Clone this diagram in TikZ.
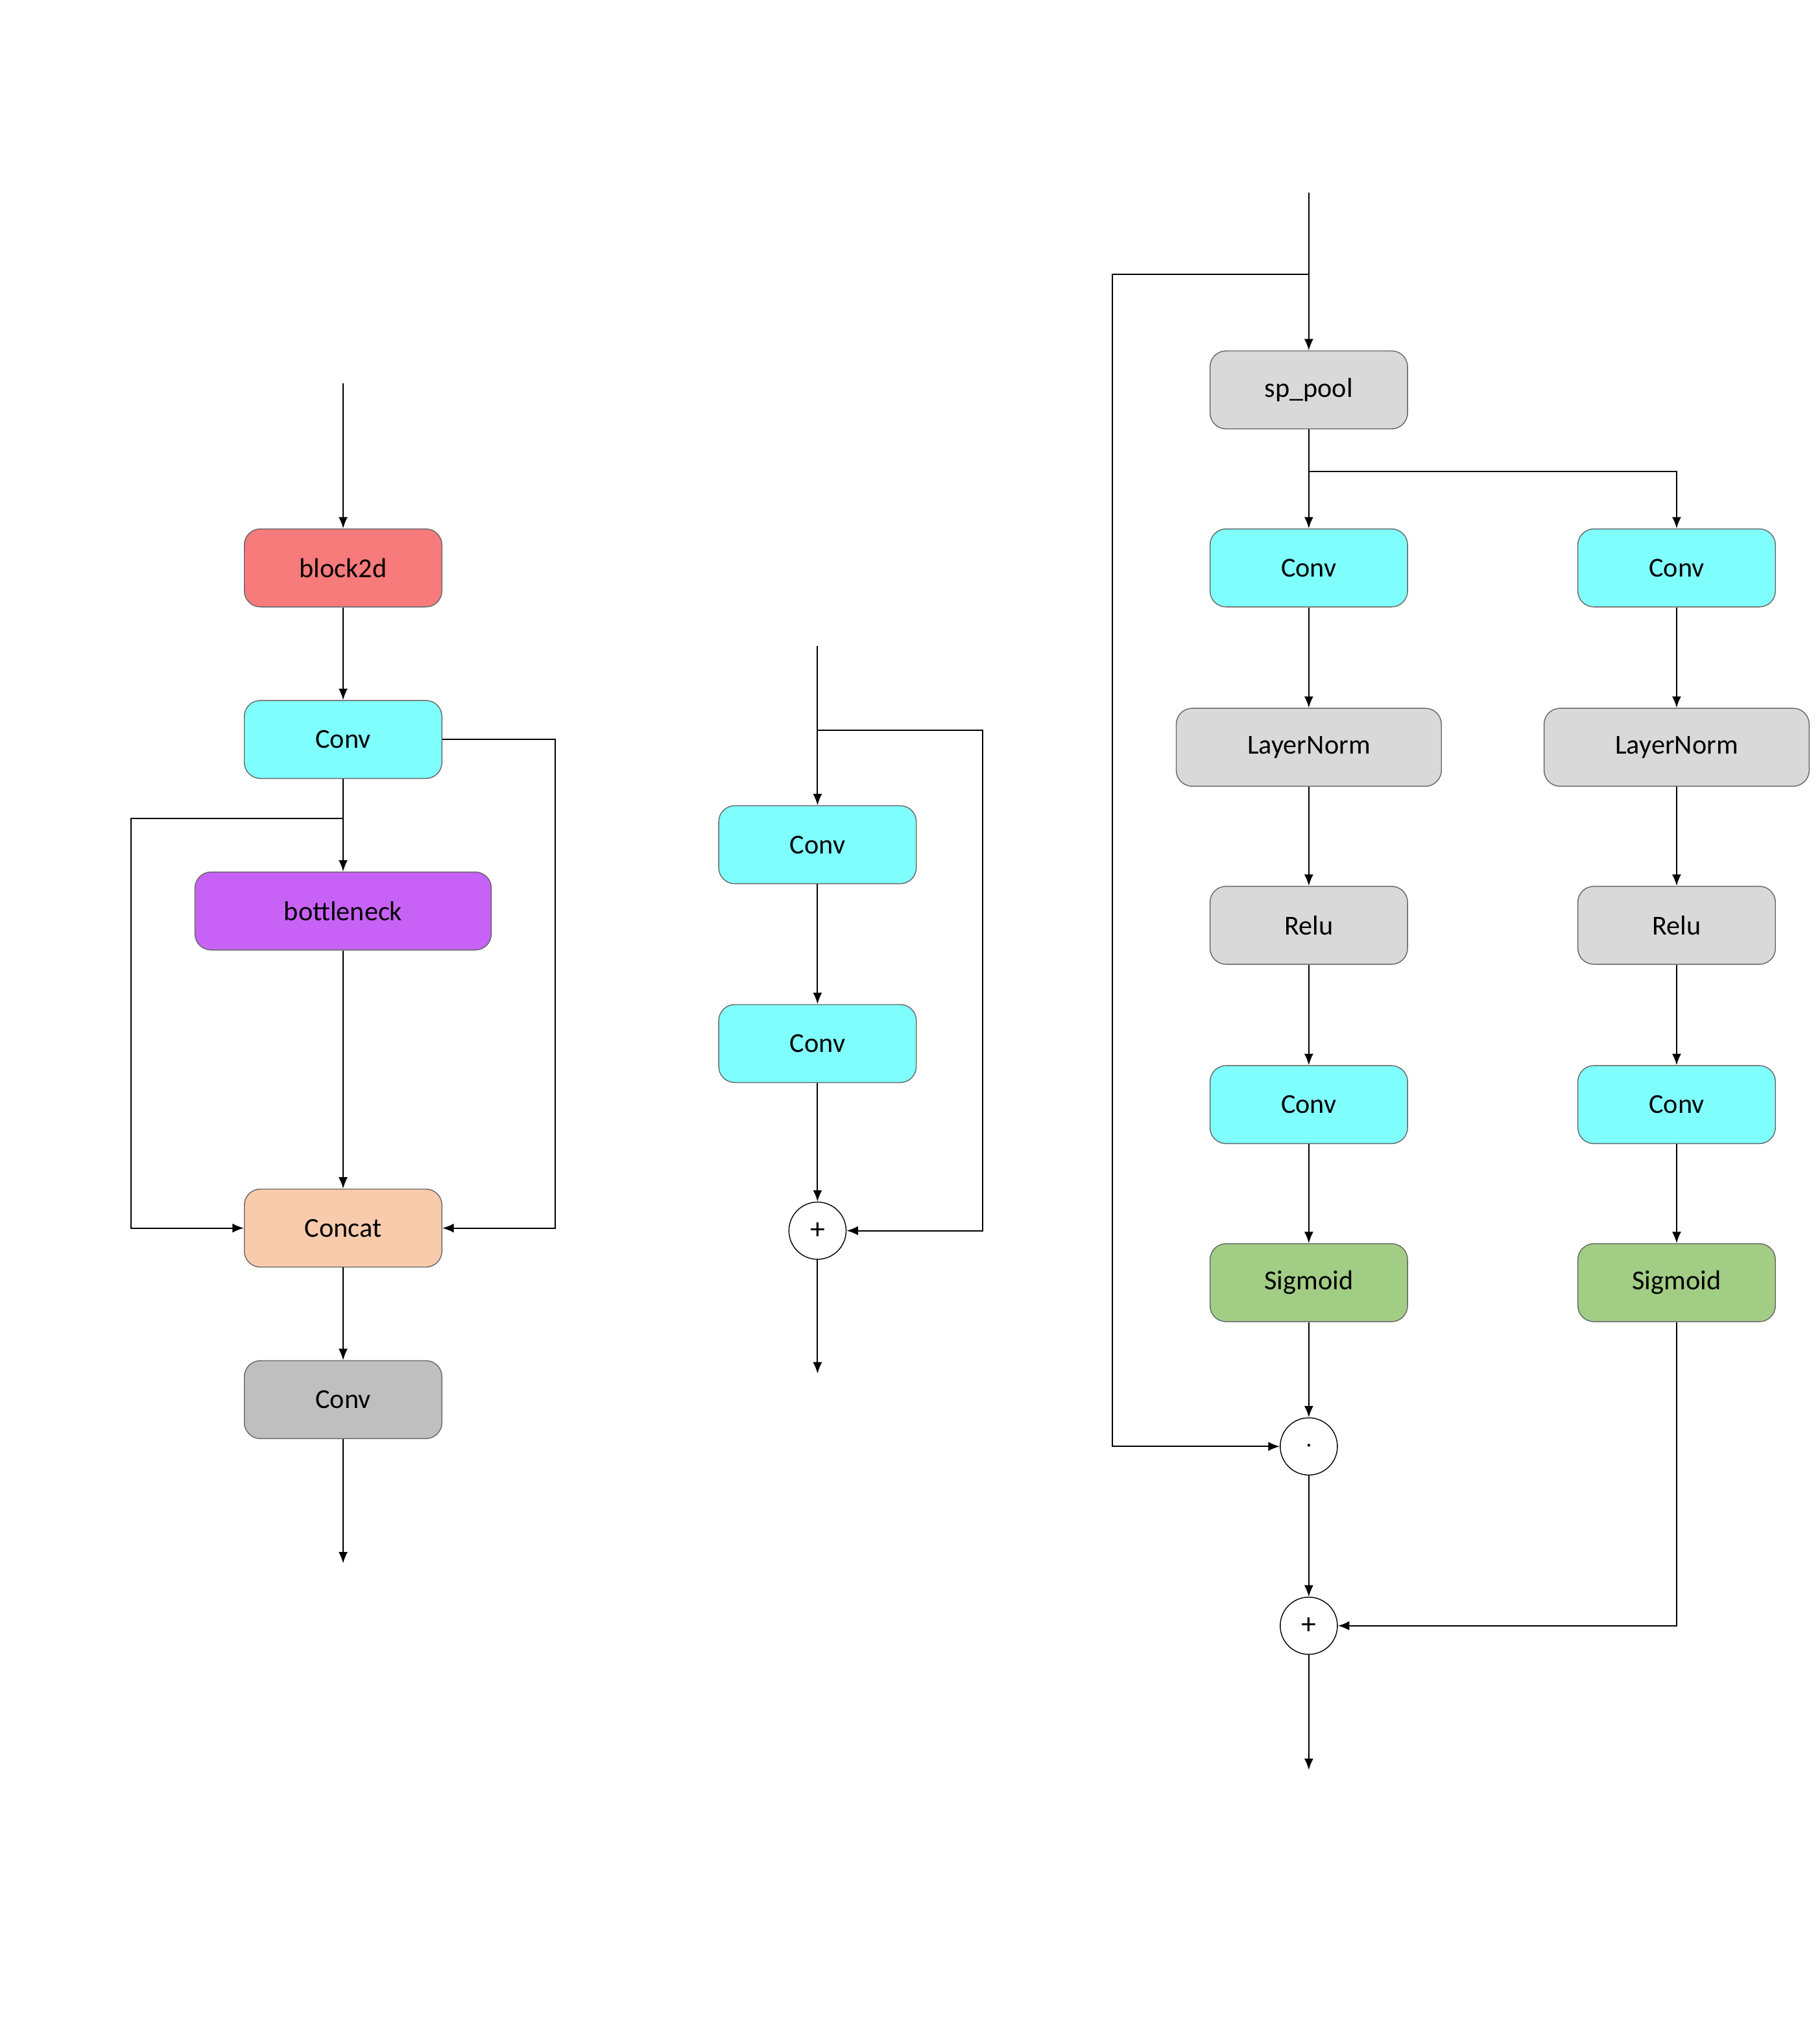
\documentclass[tikz,border=0pt]{standalone}
\usepackage{fontspec}
\setmainfont{Carlito}
\usetikzlibrary{arrows.meta}
\definecolor{cred}{HTML}{F77B7B}
\definecolor{ccyan}{HTML}{80FFFF}
\definecolor{cpurp}{HTML}{C862F7}
\definecolor{cpeach}{HTML}{F8CBAD}
\definecolor{cdgray}{HTML}{BFBFBF}
\definecolor{clgray}{HTML}{D9D9D9}
\definecolor{cgreen}{HTML}{A2CD85}
\begin{document}
\begin{tikzpicture}[x=0.02cm,y=-0.02cm,
  box/.style={draw=black!60,rounded corners=7pt,minimum width=152*0.02cm,minimum height=60*0.02cm,font=\fontsize{12}{14}\selectfont,inner sep=0pt},
  op/.style={draw,circle,minimum size=44*0.02cm,inner sep=0pt,font=\fontsize{13}{14}\selectfont},
  arr/.style={-{Latex[length=5pt,width=4pt]},line width=0.6pt},
  ln/.style={line width=0.6pt}]
\useasboundingbox (0,0) rectangle (1400,1569);
% left
\coordinate (lin) at (264,295);
\node[box,fill=cred] (b2d) at (264,437) {block2d};
\node[box,fill=ccyan] (lc1) at (264,569) {Conv};
\node[box,fill=cpurp,minimum width=228*0.02cm] (bn) at (264,701) {bottleneck};
\node[box,fill=cpeach] (cat) at (264,945) {Concat};
\node[box,fill=cdgray] (lc2) at (264,1077) {Conv};
\coordinate (lout) at (264,1203);
\coordinate (lsplit) at (264,630);
\draw[arr] (lin) -- (b2d);
\draw[arr] (b2d) -- (lc1);
\draw[arr] (lc1) -- (bn);
\draw[arr] (bn) -- (cat);
\draw[arr] (cat) -- (lc2);
\draw[arr] (lc2) -- (lout);
\draw[arr] (lc1.east) -- (427,569) -- (427,945) -- (cat.east);
\draw[arr] (lsplit) -- (101,630) -- (101,945) -- (cat.west);
% middle
\coordinate (min) at (629,497);
\node[box,fill=ccyan] (mc1) at (629,650) {Conv};
\node[box,fill=ccyan] (mc2) at (629,803) {Conv};
\node[op] (mp) at (629,947) {+};
\coordinate (mout) at (629,1057);
\coordinate (msplit) at (629,562);
\draw[arr] (min) -- (mc1);
\draw[arr] (mc1) -- (mc2);
\draw[arr] (mc2) -- (mp);
\draw[arr] (mp) -- (mout);
\draw[arr] (msplit) -- (756,562) -- (756,947) -- (mp.east);
% right
\coordinate (rin) at (1007,148);
\coordinate (rsplit) at (1007,211);
\node[box,fill=clgray] (sp) at (1007,300) {sp\_pool};
\coordinate (rsplit2) at (1007,363);
\node[box,fill=ccyan] (a1) at (1007,437) {Conv};
\node[box,fill=ccyan] (b1) at (1290,437) {Conv};
\node[box,fill=clgray,minimum width=204*0.02cm] (a2) at (1007,575) {LayerNorm};
\node[box,fill=clgray,minimum width=204*0.02cm] (b2) at (1290,575) {LayerNorm};
\node[box,fill=clgray] (a3) at (1007,712) {Relu};
\node[box,fill=clgray] (b3) at (1290,712) {Relu};
\node[box,fill=ccyan] (a4) at (1007,850) {Conv};
\node[box,fill=ccyan] (b4) at (1290,850) {Conv};
\node[box,fill=cgreen] (a5) at (1007,987) {Sigmoid};
\node[box,fill=cgreen] (b5) at (1290,987) {Sigmoid};
\node[op] (dot) at (1007,1113) {$\cdot$};
\node[op] (pl) at (1007,1251) {+};
\coordinate (rout) at (1007,1362);
\draw[arr] (rin) -- (sp);
\draw[arr] (sp) -- (a1);
\draw[arr] (rsplit2) -- (1290,363) -- (b1);
\draw[arr] (a1) -- (a2); \draw[arr] (a2) -- (a3); \draw[arr] (a3) -- (a4); \draw[arr] (a4) -- (a5); \draw[arr] (a5) -- (dot);
\draw[arr] (b1) -- (b2); \draw[arr] (b2) -- (b3); \draw[arr] (b3) -- (b4); \draw[arr] (b4) -- (b5);
\draw[arr] (dot) -- (pl);
\draw[arr] (pl) -- (rout);
\draw[arr] (rsplit) -- (856,211) -- (856,1113) -- (dot.west);
\draw[arr] (b5.south) -- (1290,1251) -- (pl.east);
\end{tikzpicture}
\end{document}
